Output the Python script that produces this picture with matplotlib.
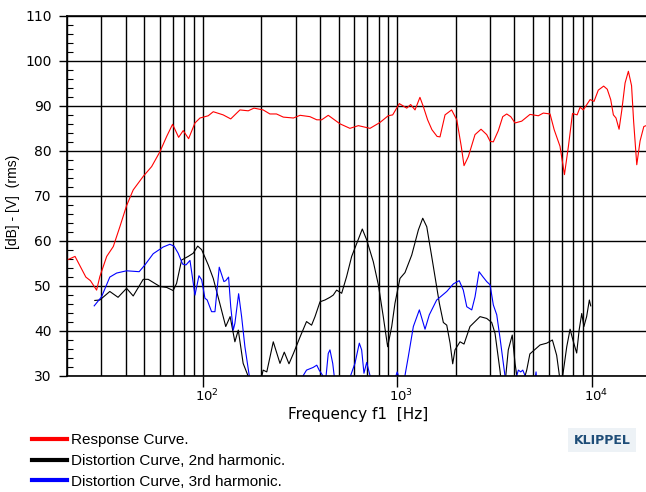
import numpy as np
import matplotlib
matplotlib.use('Agg')
from matplotlib import pyplot as plt
from matplotlib.ticker import FixedLocator, LogLocator, MultipleLocator, NullFormatter
import matplotlib.transforms as mtransforms

# response curve (Hz, dB)
resp_f = [20, 22, 25, 26.4, 28.4, 29.5, 32, 34.6, 37.4, 40.5, 43.8, 49.3, 54.5, 60.1, 65.1,
          69.8, 75, 79.2, 84.4, 91, 96.6, 106.5, 113, 127, 139, 155, 171, 183, 204, 221,
          239, 259, 292, 316, 355, 385, 408, 441, 507, 570, 630, 723, 813, 897, 946,
          1023, 1117, 1170, 1232, 1306, 1358, 1430, 1505, 1600, 1656, 1758, 1900, 2020,
          2130, 2201, 2316, 2507, 2692, 2880, 3000, 3114, 3304, 3481, 3649, 3827, 4027,
          4358, 4806, 5305, 5628, 6095, 6400, 6858, 7228, 7576, 7950, 8400, 8700, 9036,
          9795, 10260, 10790, 11500, 12000, 12500, 12900, 13310, 13800, 14250, 14820,
          15410, 16000, 16400, 17020, 17700, 18500, 19010, 20000]
resp_v = [55.7, 56.5, 51.9, 51.1, 49.0, 52.0, 56.5, 58.7, 63.1, 67.8, 71.3, 74.3, 76.5, 79.8, 83.2,
          85.9, 83.0, 84.5, 82.7, 86.2, 87.3, 87.8, 88.7, 88.0, 87.1, 89.1, 88.9, 89.5, 89.1, 88.2,
          88.2, 87.5, 87.3, 87.9, 87.6, 86.9, 86.9, 87.9, 86.0, 85.0, 85.6, 85.0, 86.3, 87.8, 88.0,
          90.5, 89.5, 90.3, 89.1, 91.9, 89.9, 86.9, 84.7, 83.2, 83.1, 88.0, 89.1, 86.9,
          81.0, 76.7, 78.7, 83.6, 84.8, 83.6, 82.1, 82.0, 84.5, 87.6, 88.2, 87.6, 86.2,
          86.6, 88.1, 87.8, 88.4, 88.2, 84.7, 81.0, 74.7, 81.0, 88.3, 88.0, 89.7, 89.1,
          91.4, 91.0, 93.5, 94.4, 93.7, 91.4, 88.0, 87.3, 84.8, 89.0, 95.1,
          97.7, 94.5, 86.5, 76.9, 82.2, 85.4, 85.6, 85.7]

# 2nd harmonic distortion
h2_f = [27.8, 29.5, 33.2, 36.6, 40.5, 43.8, 49.3, 52.3, 60.1, 65.1, 70.3, 73.2, 77.7, 84, 89.1,
        94, 98.5, 106.5, 113, 122, 131, 138, 146, 152, 161, 171, 185, 200, 204, 213, 230,
        249, 262, 277, 292, 316, 341, 362, 377, 400, 424, 450, 468, 487, 517, 548, 582,
        618, 660, 695, 752, 798, 846, 891, 935, 972, 1031, 1094, 1185, 1282, 1350, 1416,
        1501, 1561, 1643, 1723, 1794, 1866, 1925, 1978, 2099, 2201, 2362, 2660, 2879,
        3055, 3177, 3372, 3450, 3573, 3717, 3896, 4027, 4110, 4275, 4624, 4800, 5417,
        5862, 6266, 6592, 6808, 6950, 7084, 7428, 7727, 8036, 8356, 8600, 8872, 9100,
        9400, 9708, 9865]
h2_v = [46.7, 46.8, 48.7, 47.4, 49.4, 47.7, 51.4, 51.4, 49.8, 49.6, 48.9, 50.5, 55.7, 56.5, 57.2,
        58.8, 58.0, 54.6, 51.6, 46.1, 40.9, 43.1, 37.5, 40.1, 32.7, 29.8, 25, 29.5, 31.2, 30.8, 37.5,
        32.7, 35.2, 32.6, 34.9, 38.6, 42.0, 41.2, 43.1, 46.4, 46.8, 47.4, 47.9, 49.0, 48.3, 52.0, 56.5,
        59.4, 62.6, 60.2, 55.3, 50.2, 43.1, 36.4, 40.9, 46.1, 51.6, 52.9, 56.8, 62.4, 65.0, 63.1,
        56.5, 52.0, 46.1, 41.8, 41.2, 37.2, 32.6, 35.7, 37.5, 37.0, 40.9, 43.1, 42.7,
        41.8, 39.4, 31.0, 27, 28, 35.7, 39.0, 32.7, 30, 26, 31.2, 34.8, 36.8,
        37.2, 37.9, 34.5, 30, 27, 30, 36.4, 40.3, 37.5, 35.0, 40.1, 43.8, 40.9,
        43.1, 46.8, 45.5]

# 3rd harmonic distortion
h3_f = [27.6, 30.1, 33.2, 36, 40.5, 47, 50.3, 55.5, 62.5, 67.6, 71, 74.6, 78.6, 81.8, 85.8,
        91, 95.4, 98.5, 102.4, 105.2, 110.8, 115.3, 121.3, 128.2, 131, 135.5, 139, 143.2,
        146, 152.6, 158.1, 164.4, 173, 185, 316, 328, 341, 369, 385, 396, 413, 422, 430,
        441, 450, 465, 473, 483, 557, 575, 605, 637, 655, 673, 695, 723, 740, 960, 984,
        998, 1011, 1031, 1069, 1094, 1138, 1208, 1297, 1387, 1459, 1592, 1794, 1941, 2080,
        2182, 2274, 2412, 2507, 2630, 2748, 2879, 2995, 3114, 3243, 3372, 3506, 3573,
        3664, 4027, 4110, 4188, 4306, 4413, 4531, 4645, 4981, 5164, 5260]
h3_v = [45.5, 47.5, 51.9, 52.8, 53.3, 53.1, 54.6, 57.1, 58.6, 59.2, 58.8, 57.2, 54.8, 54.6, 55.6,
        47.9, 52.2, 51.3, 47.2, 46.8, 44.2, 44.2, 54.1, 50.9, 51.1, 51.9, 45.3, 40.1,
        41.6, 48.2, 43.1, 36.4, 30, 25, 25, 30, 31.2, 31.8, 32.3, 31.2, 30, 27, 30,
        34.9, 35.7, 32.7, 30, 26, 26, 30, 32.7, 37.2, 35.7, 30.5, 32.9, 30, 26, 26, 30,
        30.8, 30, 26, 26, 30, 34.2, 40.9, 44.6, 40.3, 43.5, 46.8, 48.7, 50.4, 51.1,
        49.0, 45.3, 44.6, 47.5, 53.1, 52.0, 50.9, 50.2, 45.7, 43.5, 38.3, 32.7, 30,
        26, 26, 30, 31.2, 30.8, 31.2, 30, 26, 26, 30.8, 26]

labels = ['Response Curve.', 'Distortion Curve, 2nd harmonic.', 'Distortion Curve, 3rd harmonic.']
xtick_vals = [100, 1000, 10000]
xtick_labels = ['$10^{2}$', '$10^{3}$', '$10^{4}$']
ytick_vals = list(range(30, 111, 10))

W, H = 646, 492
fig = plt.figure(figsize=(W / 100, H / 100), dpi=100)
ax = fig.add_axes([67 / W, (H - 375.5) / H, (650.4 - 67) / W, (375.5 - 16) / H])

ax.plot(resp_f, resp_v, color='#ff0000', lw=0.8, label=labels[0])
ax.plot(h2_f, h2_v, color='black', lw=0.8, label=labels[1])
ax.plot(h3_f, h3_v, color='#0000ff', lw=0.8, label=labels[2])

ax.set_xscale('log')
ax.set_xlim(20, 20000)
ax.set_ylim(30, 110)

ax.xaxis.set_major_locator(FixedLocator(xtick_vals))
ax.set_xticklabels(xtick_labels)
ax.xaxis.set_minor_locator(LogLocator(base=10, subs=np.arange(2, 10)))
ax.xaxis.set_minor_formatter(NullFormatter())
ax.set_yticks(ytick_vals)
ax.yaxis.set_minor_locator(MultipleLocator(2))

ax.tick_params(axis='x', which='major', direction='out', length=8, width=1, labelsize=9.5, pad=1)
ax.tick_params(axis='x', which='minor', length=0)
ax.tick_params(axis='y', which='major', direction='out', length=6, width=1, labelsize=10, pad=5)
ax.tick_params(axis='y', which='minor', direction='in', length=4.5, width=0.8)
ax.grid(True, which='both', axis='x', color='black', lw=1.0)
ax.grid(True, which='major', axis='y', color='black', lw=1.0)
for s in ax.spines.values():
    s.set_linewidth(1.2)

# push the exponent labels a bit right like the original
offset = mtransforms.ScaledTranslation(0.04, 0, fig.dpi_scale_trans)
for lab in ax.get_xticklabels():
    lab.set_transform(lab.get_transform() + offset)

fig.text(13 / W, 1 - 202 / H, '[dB] - [V]  (rms)', rotation=90, ha='center', va='center',
         fontsize=10, family='Liberation Sans')
fig.text(358 / W, 1 - 414 / H, 'Frequency f1  [Hz]', ha='center', va='center', fontsize=11)

leg = fig.legend(loc='upper left', bbox_to_anchor=(32 / W, 1 - 433 / H), frameon=False,
                 borderpad=0, borderaxespad=0, handlelength=2.3, handletextpad=0.25,
                 labelspacing=0.45, prop={'family': 'Liberation Sans', 'size': 11})
for h in leg.legend_handles:
    h.set_linewidth(3)

fig.text(602 / W, 1 - 440 / H, 'KLIPPEL', ha='center', va='center', fontsize=9,
         fontweight='bold', color='#1e4d78',
         bbox=dict(facecolor='#edf2f6', edgecolor='none', pad=4))

plt.savefig('out.png', dpi=100)
